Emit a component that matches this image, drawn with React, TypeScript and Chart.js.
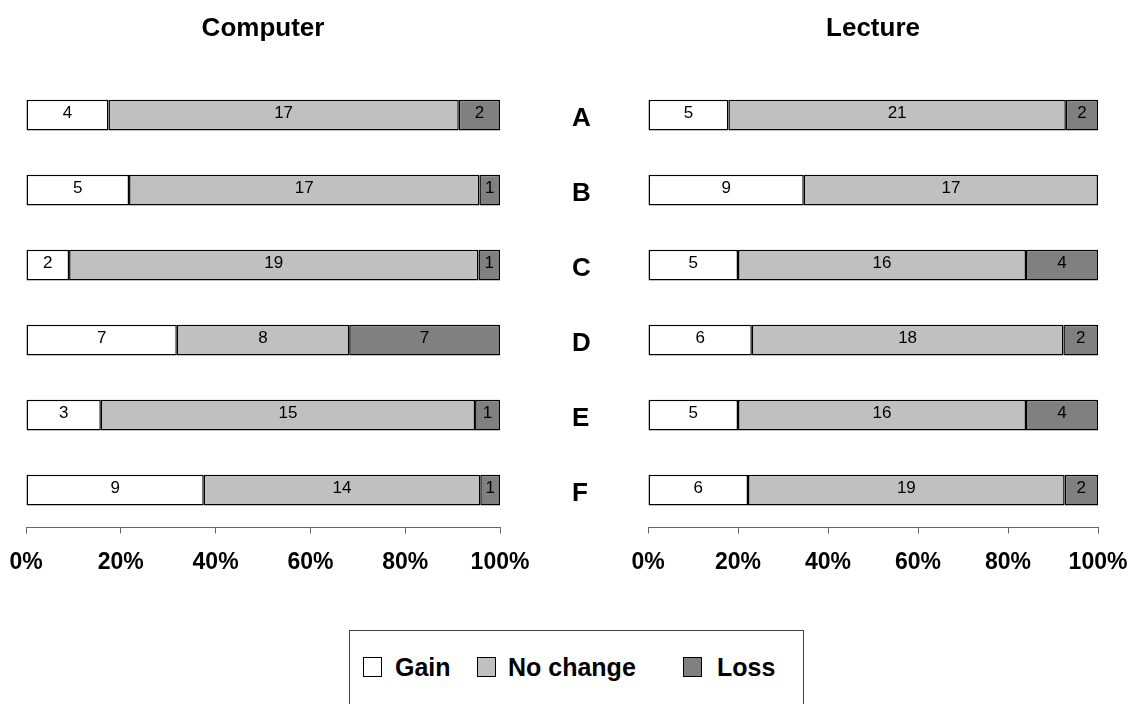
import React, { useEffect, useRef } from "react";
import { Chart, registerables } from "chart.js";

Chart.register(...registerables);

const categories = ["A", "B", "C", "D", "E", "F"];
const seriesNames = ["Gain", "No change", "Loss"];
const seriesColors = ["#ffffff", "#c0c0c0", "#808080"];

const computerGain = [4, 5, 2, 7, 3, 9];
const computerNoChange = [17, 17, 19, 8, 15, 14];
const computerLoss = [2, 1, 1, 7, 1, 1];

const lectureGain = [5, 9, 5, 6, 5, 6];
const lectureNoChange = [21, 17, 16, 18, 16, 19];
const lectureLoss = [2, 0, 4, 2, 4, 2];

const xTicks = [0, 20, 40, 60, 80, 100];

const FONT = "'Liberation Sans', Arial, Helvetica, sans-serif";

function toPercent(series: number[][]): (number | null)[][] {
  const n = series[0].length;
  const totals = Array.from({ length: n }, (_, i) =>
    series.reduce((s, arr) => s + arr[i], 0)
  );
  return series.map((arr) => arr.map((v, i) => (v === 0 ? null : (v / totals[i]) * 100)));
}

const valueLabelPlugin = {
  id: "valueLabels",
  afterDatasetsDraw(chart: any) {
    const ctx = chart.ctx;
    ctx.save();
    ctx.font = `17px ${FONT}`;
    ctx.fillStyle = "#000";
    ctx.textAlign = "center";
    ctx.textBaseline = "middle";
    chart.data.datasets.forEach((ds: any, di: number) => {
      const meta = chart.getDatasetMeta(di);
      meta.data.forEach((el: any, i: number) => {
        const c = ds.counts[i];
        if (!c) return;
        const p = el.getProps(["x", "base", "y"], true);
        ctx.fillText(String(c), (p.x + p.base) / 2, p.y - 2);
      });
    });
    ctx.restore();
  },
};

function makeConfig(title: string, series: number[][], showCats: boolean): any {
  const pct = toPercent(series);
  return {
    type: "bar",
    data: {
      labels: categories,
      datasets: seriesNames.map((name, k) => ({
        label: name,
        data: pct[k],
        counts: series[k],
        backgroundColor: seriesColors[k],
        borderColor: "#000",
        borderWidth: 1.5,
        borderSkipped: false,
        barPercentage: 0.41,
        categoryPercentage: 1,
      })),
    },
    plugins: [valueLabelPlugin],
    options: {
      indexAxis: "y",
      responsive: false,
      animation: false,
      devicePixelRatio: 1,
      layout: {
        padding: showCats
          ? { left: 0, right: 46, top: 0, bottom: 22.5 }
          : { left: 26, right: 60, top: 0, bottom: 22.5 },
      },
      plugins: {
        legend: { display: false },
        tooltip: { enabled: false },
        title: {
          display: true,
          text: title,
          fullSize: false,
          color: "#000",
          font: { family: FONT, size: 26, weight: "bold", lineHeight: 1.2 },
          padding: { top: 13, bottom: 33.3 },
        },
      },
      scales: {
        x: {
          stacked: true,
          min: 0,
          max: 100,
          afterBuildTicks: (scale: any) => {
            scale.ticks = xTicks.map((v) => ({ value: v }));
          },
          afterFit: (scale: any) => {
            scale.paddingLeft = 0;
            scale.paddingRight = 0;
            scale.height = 50;
          },
          ticks: {
            color: "#000",
            padding: 15,
            font: { family: FONT, size: 23, weight: "bold" },
            callback: (v: any) => `${v}%`,
          },
          grid: {
            display: true,
            drawOnChartArea: false,
            drawTicks: true,
            tickLength: 6,
            color: "#666",
          },
          border: { display: true, color: "#666", width: 1 },
        },
        y: {
          stacked: true,
          display: showCats,
          afterFit: (scale: any) => {
            scale.paddingTop = 0;
            scale.paddingBottom = 0;
            if (showCats) scale.width = 76;
          },
          ticks: {
            color: "#000",
            padding: 0,
            crossAlign: "far",
            labelOffset: 4,
            font: { family: FONT, size: 26, weight: "bold" },
          },
          grid: { display: false, drawTicks: false },
          border: { display: false },
        },
      },
    },
  };
}

function BarPanel(props: { title: string; series: number[][]; showCats: boolean; left: number; width: number }) {
  const ref = useRef<HTMLCanvasElement | null>(null);
  useEffect(() => {
    if (!ref.current) return;
    const chart = new Chart(ref.current, makeConfig(props.title, props.series, props.showCats));
    return () => chart.destroy();
  }, []);
  return (
    <canvas
      ref={ref}
      width={props.width}
      height={600}
      style={{ position: "absolute", left: props.left, top: 0, width: props.width, height: 600 }}
    />
  );
}

const legendSquares = [363, 477, 683];
const legendTexts = [395, 508, 717];

export default function App() {
  return (
    <div
      style={{
        position: "absolute",
        left: 0,
        top: 0,
        width: 1144,
        height: 704,
        overflow: "hidden",
        background: "#fff",
        fontFamily: FONT,
      }}
    >
      <BarPanel
        title="Computer"
        series={[computerGain, computerNoChange, computerLoss]}
        showCats={false}
        left={0}
        width={560}
      />
      <BarPanel
        title="Lecture"
        series={[lectureGain, lectureNoChange, lectureLoss]}
        showCats={true}
        left={572}
        width={572}
      />
      <div
        style={{
          position: "absolute",
          left: 349,
          top: 630,
          width: 455,
          height: 100,
          border: "1px solid #444",
          boxSizing: "border-box",
        }}
      />
      {seriesNames.map((name, k) => (
        <React.Fragment key={name}>
          <div
            style={{
              position: "absolute",
              left: legendSquares[k],
              top: 657,
              width: 19,
              height: 20,
              boxSizing: "border-box",
              border: "1px solid #000",
              background: seriesColors[k],
            }}
          />
          <div
            style={{
              position: "absolute",
              left: legendTexts[k],
              top: 653,
              height: 28,
              lineHeight: "28px",
              fontSize: 25,
              fontWeight: "bold",
              color: "#000",
              whiteSpace: "nowrap",
            }}
          >
            {name}
          </div>
        </React.Fragment>
      ))}
    </div>
  );
}
